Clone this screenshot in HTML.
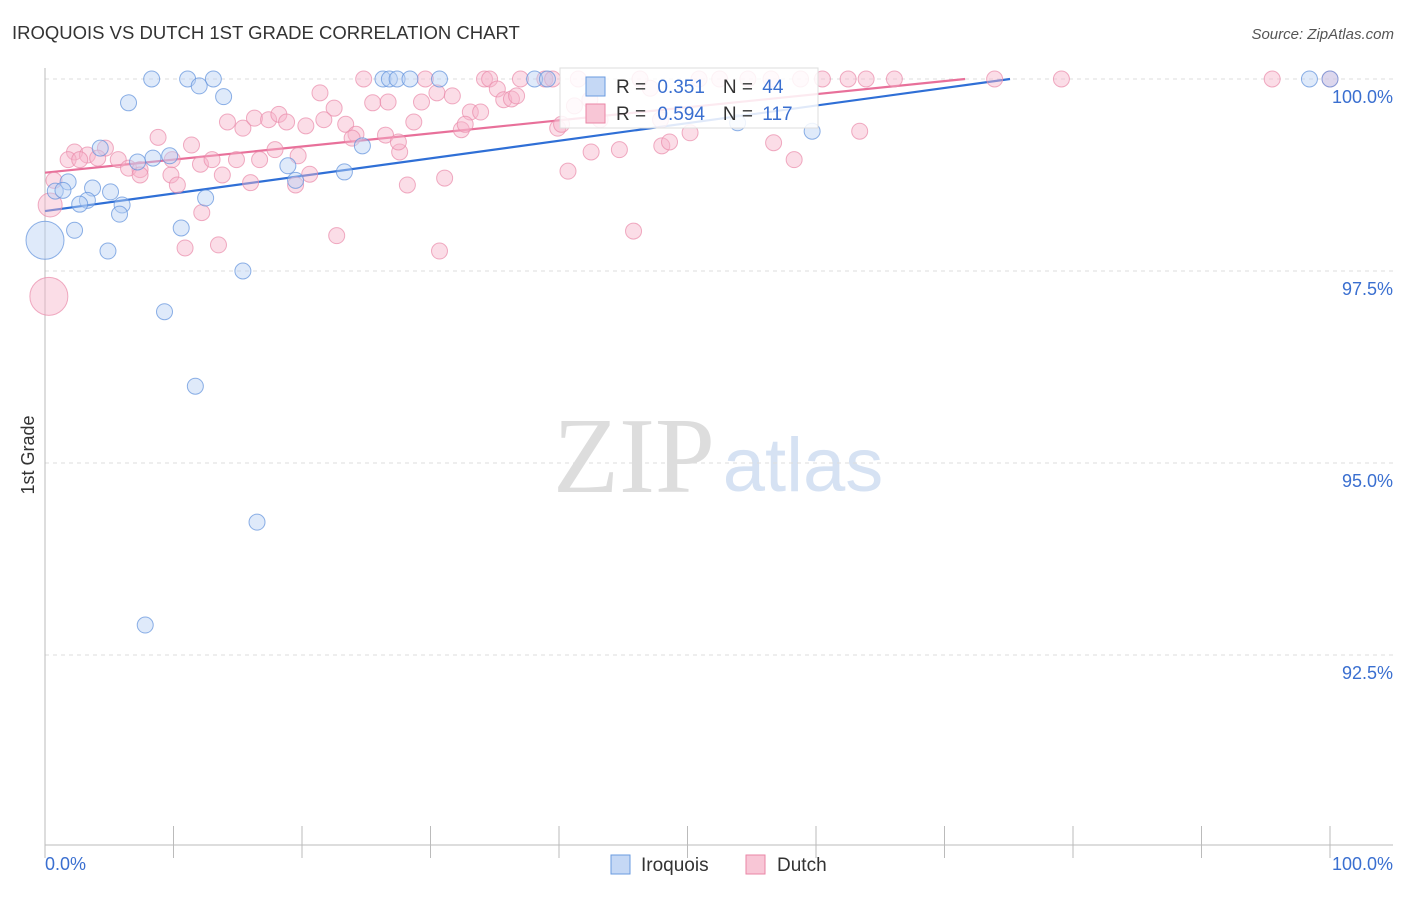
<!DOCTYPE html>
<html><head><meta charset="utf-8"><style>
body{margin:0;background:#fff;font-family:"Liberation Sans",sans-serif}
svg text{font-family:"Liberation Sans",sans-serif}
</style></head><body>
<svg id="chart" width="1406" height="892" xmlns="http://www.w3.org/2000/svg">
<text x="12" y="39" font-size="18.5" fill="#333">IROQUOIS VS DUTCH 1ST GRADE CORRELATION CHART</text>
<text x="1394" y="39" font-size="15" fill="#555" font-style="italic" text-anchor="end">Source: ZipAtlas.com</text>
<text x="634" y="492" font-size="108" fill="#ddd" text-anchor="middle" style="font-family:'Liberation Serif',serif">ZIP</text>
<text x="803" y="491" font-size="76" fill="#d6e2f3" text-anchor="middle">atlas</text>
<text transform="translate(34,455) rotate(-90)" font-size="18" fill="#333" text-anchor="middle">1st Grade</text>
<g id="grid"></g><g id="axes"></g><g id="lines"></g><g id="pts"></g>
<g>
<rect x="560" y="68" width="258" height="60" fill="#fff" fill-opacity="0.85" stroke="#ddd"/>
<rect x="586" y="77" width="19" height="19" fill="#c5d8f5" stroke="#6a9be0"/>
<rect x="586" y="104" width="19" height="19" fill="#f8c6d6" stroke="#ea86a6"/>
<text x="616" y="93" font-size="19" fill="#333">R = <tspan fill="#3a6fd0" dx="6">0.351</tspan><tspan dx="18">N = </tspan><tspan fill="#3a6fd0" dx="4">44</tspan></text>
<text x="616" y="120" font-size="19" fill="#333">R = <tspan fill="#3a6fd0" dx="6">0.594</tspan><tspan dx="18">N = </tspan><tspan fill="#3a6fd0" dx="4">117</tspan></text>
</g>
<g>
<rect x="611" y="855" width="19" height="19" fill="#c5d8f5" stroke="#6a9be0"/>
<text x="641" y="871" font-size="19" fill="#333">Iroquois</text>
<rect x="746" y="855" width="19" height="19" fill="#f8c6d6" stroke="#ea86a6"/>
<text x="777" y="871" font-size="19" fill="#333">Dutch</text>
</g>
</svg>
<script>
const yTicks=[100,97.5,95,92.5];
const yTickLabels=["100.0%","97.5%","95.0%","92.5%"];
const xTicks=[0,10,20,30,40,50,60,70,80,90,100];
const xEndLabels=["0.0%","100.0%"];
const iroX=[8.3,11.1,13.1,12.0,13.9,6.5,26.3,26.8,27.4,28.4,30.7,38.1,39.1,98.4,100,53.9,59.7,24.7,4.3,9.7,8.4,7.2,18.9,23.3,1.8,3.7,5.1,0.8,1.4,19.5,3.3,2.7,12.5,6.0,5.8,2.3,10.6,4.9,0,15.4,9.3,11.7,16.5,7.8];
const iroY=[100,100,100,99.91,99.77,99.69,100,100,100,100,100,100,100,100,100,99.43,99.32,99.13,99.10,99.00,98.97,98.92,98.87,98.79,98.66,98.58,98.53,98.54,98.55,98.68,98.42,98.37,98.45,98.36,98.24,98.03,98.06,97.76,97.90,97.50,96.97,96.00,94.23,92.89];
const iroBig=[38];
const dutX=[0.3,24.8,29.6,34.2,34.6,37.0,38.9,39.5,41.5,46.3,50.9,52.5,54.7,56.5,58.8,60.5,62.5,63.9,66.1,73.9,79.1,95.5,100,
21.4,25.5,26.7,29.3,30.5,31.7,35.2,35.7,36.3,36.7,33.1,33.9,41.2,42.4,47.1,22.5,20.3,15.4,14.2,16.3,17.4,18.2,18.8,21.7,23.4,24.2,26.5,28.7,32.4,32.7,39.9,40.2,43.2,47.9,50.2,63.4,8.8,11.4,4.7,2.3,3.3,1.8,2.7,4.1,5.7,6.5,7.4,9.9,12.1,13.0,14.9,16.7,17.9,19.7,23.9,27.6,27.5,42.5,44.7,48.0,48.6,56.7,58.3,9.8,7.4,13.8,16.0,20.6,19.5,28.2,31.1,40.7,10.3,12.2,0.7,0.4,10.9,13.5,22.7,30.7,45.8];
const dutY=[97.17,100,100,100,100,100,100,100,100,100,100,100,100,100,100,100,100,100,100,100,100,100,100,
99.82,99.69,99.70,99.70,99.82,99.78,99.87,99.73,99.74,99.78,99.57,99.57,99.65,99.73,99.88,99.62,99.39,99.36,99.44,99.49,99.47,99.54,99.44,99.47,99.41,99.28,99.27,99.44,99.34,99.41,99.36,99.41,99.47,99.47,99.30,99.32,99.24,99.14,99.10,99.05,99.01,98.95,98.95,98.97,98.95,98.84,98.82,98.95,98.89,98.95,98.95,98.95,99.08,99.00,99.23,99.05,99.18,99.05,99.08,99.13,99.18,99.17,98.95,98.75,98.75,98.75,98.65,98.76,98.62,98.62,98.71,98.80,98.62,98.26,98.68,98.36,97.80,97.84,97.96,97.76,98.02];
const dutBig=[0];
const dutMid=[98];
const iroTrend=[[0,98.28],[75.1,100]];
const dutTrend=[[0,98.78],[71.6,100]];
const X0=45,X1=1330,Y100=79,PX=192/2.5;
const sx=v=>X0+(X1-X0)*v/100;
const sy=v=>Y100+(100-v)*PX;
const NS="http://www.w3.org/2000/svg";
function mk(tag,attrs,parent){const e=document.createElementNS(NS,tag);for(const k in attrs)e.setAttribute(k,attrs[k]);document.getElementById(parent).appendChild(e);return e;}
yTicks.forEach((t,i)=>{
 const l=mk('line',{x1:45,x2:1393,y1:sy(t),y2:sy(t),stroke:'#ddd','stroke-dasharray':'4,4'},'grid');
 
 
 const tx=mk('text',{x:1393,y:sy(t)+24,'font-size':18,fill:'#3a6fd0','text-anchor':'end'},'grid');
 tx.textContent=yTickLabels[i];
 
 
});
let a=mk('line',{x1:45,x2:45,y1:68,y2:845,stroke:'#bbb'},'axes');


a=mk('line',{x1:45,x2:1393,y1:845,y2:845,stroke:'#bbb'},'axes');


xTicks.forEach(t=>{const l=mk('line',{x1:sx(t),x2:sx(t),y1:826,y2:858,stroke:'#bbb'},'axes');
 
 });
[[0,'start',45],[1,'end',1393]].forEach(([i,anc,x])=>{const t=mk('text',{x:x,y:870,'font-size':18,fill:'#3a6fd0','text-anchor':anc},'axes');t.textContent=xEndLabels[i];
 
 });
function dots(xs,ys,big,mid,fill,stroke,name){xs.forEach((x,i)=>{const r=big.includes(i)?19:(mid.includes(i)?12:8);
 const c=mk('circle',{cx:sx(x),cy:sy(ys[i]),r:r,fill:fill,'fill-opacity':0.45,stroke:stroke,'stroke-opacity':0.7,'stroke-width':1},'pts');
 
 });}
dots(dutX,dutY,dutBig,dutMid,'#f6b3c9','#e98aa9','dutch-point');
dots(iroX,iroY,iroBig,[],'#b8d0f3','#5e90dc','iroquois-point');
let tl=mk('line',{x1:sx(iroTrend[0][0]),y1:sy(iroTrend[0][1]),x2:sx(iroTrend[1][0]),y2:sy(iroTrend[1][1]),stroke:'#2f6fd6','stroke-width':2.2},'lines');


tl=mk('line',{x1:sx(dutTrend[0][0]),y1:sy(dutTrend[0][1]),x2:sx(dutTrend[1][0]),y2:sy(dutTrend[1][1]),stroke:'#e8709a','stroke-width':2.2},'lines');


</script>
</body></html>
